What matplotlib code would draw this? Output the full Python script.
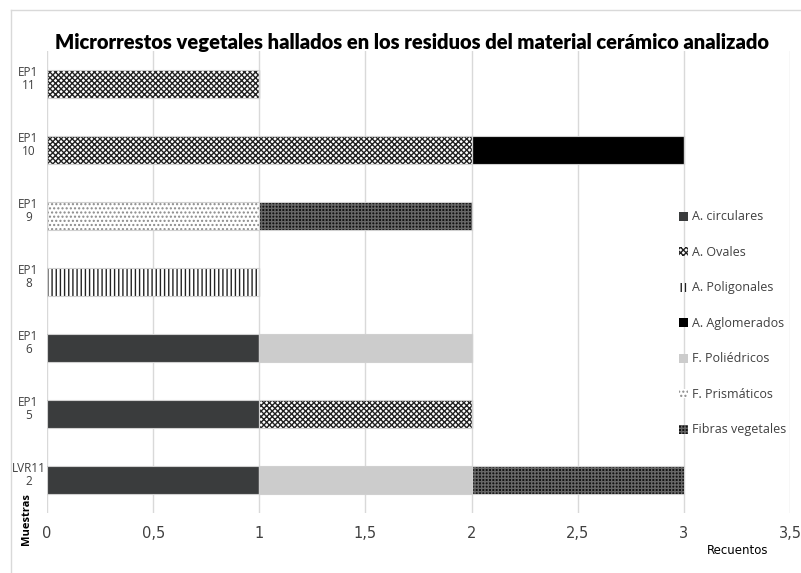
import matplotlib
matplotlib.use("Agg")
import matplotlib.pyplot as plt
import matplotlib.transforms as mtransforms
import numpy as np
from matplotlib.patches import Patch
from matplotlib.lines import Line2D

categories = ["LVR11\n2", "EP1\n5", "EP1\n6", "EP1\n8", "EP1\n9", "EP1\n10", "EP1\n11"]
series_names = ["A. circulares", "A. Ovales", "A. Poligonales", "A. Aglomerados",
                "F. Poliédricos", "F. Prismáticos", "Fibras vegetales"]
a_circulares = [1, 1, 1, 0, 0, 0, 0]
a_ovales = [0, 1, 0, 0, 0, 2, 1]
a_poligonales = [0, 0, 0, 1, 0, 0, 0]
a_aglomerados = [0, 0, 0, 0, 0, 1, 0]
f_poliedricos = [1, 0, 1, 0, 0, 0, 0]
f_prismaticos = [0, 0, 0, 0, 1, 0, 0]
fibras = [1, 0, 0, 0, 1, 0, 0]
series = [a_circulares, a_ovales, a_poligonales, a_aglomerados, f_poliedricos, f_prismaticos, fibras]
xticks = [0, 0.5, 1, 1.5, 2, 2.5, 3, 3.5]
xticklabels = ["0", "0,5", "1", "1,5", "2", "2,5", "3", "3,5"]

# style: (facecolor, hatch, hatchcolor)
styles = [
    ("#3a3c3d", None, "#3a3c3d"),
    ("white", "xxxxxx", "#222222"),
    ("white", "||||", "#222222"),
    ("black", None, "black"),
    ("#cccccc", None, "#cccccc"),
    ("white", "....", "#8a8a8a"),
    ("#111111", "+++++", "#666666"),
]

plt.rcParams['hatch.linewidth'] = 1.0
W, H = 801, 573
fig = plt.figure(figsize=(W / 100, H / 100), dpi=100)
ax = fig.add_axes([47 / W, 1 - 513 / H, (790 - 47) / W, (513 - 51) / H])

# outer frame (top & left visible)
fig.add_artist(Line2D([11 / W, 11 / W], [0, 1 - 10 / H], transform=fig.transFigure, color="#d9d9d9", lw=1))
fig.add_artist(Line2D([11 / W, 1], [1 - 10 / H, 1 - 10 / H], transform=fig.transFigure, color="#d9d9d9", lw=1))

y = np.arange(len(categories))
left = np.zeros(len(categories))
height = 0.41
for name, vals, (fc, hatch, hc) in zip(series_names, series, styles):
    vals = np.array(vals, dtype=float)
    ax.barh(y, vals, left=left, height=height, color=fc, edgecolor=hc, hatch=hatch, linewidth=0, zorder=2)
    ax.barh(y, vals, left=left, height=height, fill=False, edgecolor="#d0d0d0", linewidth=0.8, zorder=3)
    left += vals

ax.set_xlim(0, 3.5)
ax.set_ylim(-0.5, 6.5)
ax.set_xticks(xticks)
ax.set_xticklabels(xticklabels, fontsize=10.5, color="#404040", family=["Liberation Sans Narrow", "DejaVu Sans"])
ax.set_yticks(y)
ax.set_yticklabels([])
ax.tick_params(axis="y", length=0)
ax.tick_params(axis="x", length=0, pad=9)
for s in ax.spines.values():
    s.set_visible(False)
ax.xaxis.grid(True, color="#d9d9d9", lw=1, zorder=0)
ax.set_axisbelow(True)

# category labels (two-line, slightly above bar centre as in the original)
lab_trans = mtransforms.blended_transform_factory(fig.transFigure, ax.transData) + \
    mtransforms.ScaledTranslation(0, 5 / 100, fig.dpi_scale_trans)
for yi, cat in zip(y, categories):
    ax.text(28.5 / W, yi, cat, transform=lab_trans, ha="center", va="center", fontsize=8.5,
            color="#404040", family=["Open Sans", "DejaVu Sans"], linespacing=0.92, multialignment="center",
            clip_on=False)

title = fig.text(412 / W, 1 - 42 / H, "Microrrestos vegetales hallados en los residuos del material cerámico analizado",
                 ha="center", va="center", fontsize=14, fontweight="heavy", family=["Lato", "DejaVu Sans"],
                 color="black")
fig.canvas.draw()
r = fig.canvas.get_renderer()
w = title.get_window_extent(renderer=r).width
title.set_fontsize(14 * 715 / w)

fig.text(27 / W, 1 - 519 / H, "Muestras", rotation=90, ha="center", va="center", fontsize=8,
         fontweight="bold", family=["Open Sans", "DejaVu Sans"], color="black")
fig.text(738 / W, 1 - 551 / H, "Recuentos", ha="center", va="center", fontsize=8.5,
         family=["Liberation Sans Narrow", "DejaVu Sans"], color="black")

handles = [Patch(facecolor=fc, edgecolor=hc, hatch=h, linewidth=0) for (fc, h, hc) in styles]
leg = fig.legend(handles, series_names, loc="center left", bbox_to_anchor=(668 / W, 1 - 323.5 / H),
                 frameon=False, handlelength=0.7, handleheight=0.7, handletextpad=0.3,
                 labelspacing=1.8, prop={"family": ["Open Sans", "DejaVu Sans"], "size": 9.0})
for t in leg.get_texts():
    t.set_color("#404040")

fig.savefig("out.png", dpi=100, facecolor="white")
